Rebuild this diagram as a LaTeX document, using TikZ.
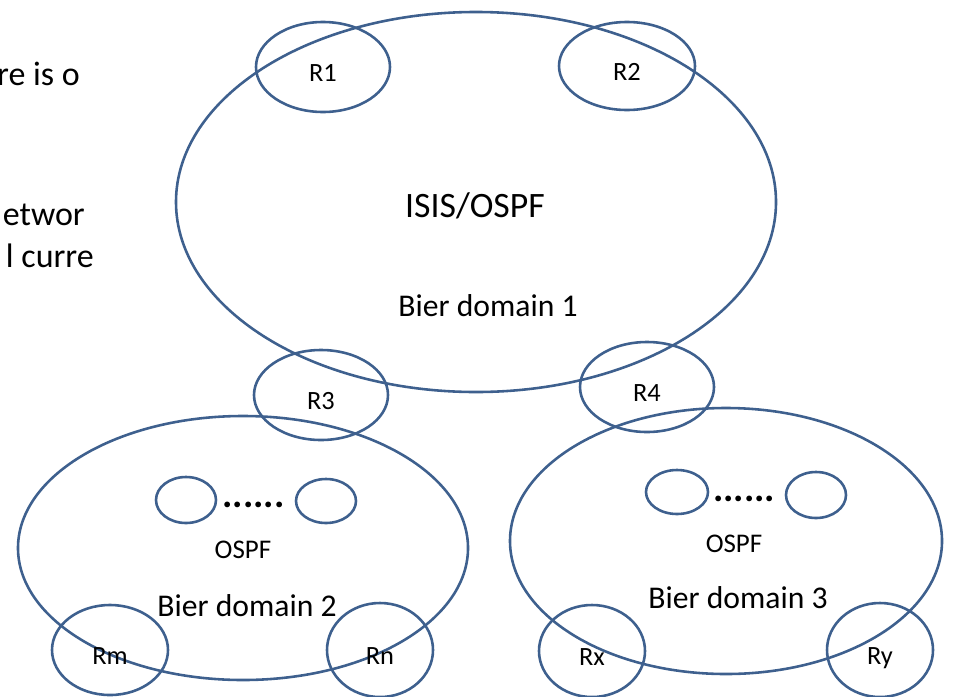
\documentclass[tikz,border=0pt]{standalone}
\usepackage{fontspec}
\setmainfont{Carlito}
\usetikzlibrary{shapes.geometric}
\definecolor{ringblue}{RGB}{62,96,142}

\begin{document}
\begin{tikzpicture}[x=0.03cm, y=-0.03cm,
    ring/.style={draw=ringblue, line width=2.2pt, ellipse, inner sep=0pt},
    router/.style={ring, font=\fontsize{22.5}{26}\selectfont, text height=24pt, text depth=0pt},
    bigtext/.style={anchor=base, font=\fontsize{27}{32}\selectfont},
    dots/.style={anchor=base, font=\fontsize{33}{38}\selectfont\bfseries}]
    \useasboundingbox (0,0) rectangle (965,696);
    \clip (0,0) rectangle (965,696);
    % cut-off text on the left
    \node[anchor=base east, font=\fontsize{29}{34}\selectfont, inner sep=0pt] (t1) at (80,85) {re is o};
    \node[anchor=base east, font=\fontsize{29}{34}\selectfont, inner sep=0pt] (t2) at (85,225) {etwor};
    \node[anchor=base east, font=\fontsize{29}{34}\selectfont, inner sep=0pt] (t3) at (94,267) {l curre};

    % domain 1
    \node[ring, minimum width=18cm, minimum height=11.4cm] (d1) at (476,202) {};
    \node[bigtext, font=\fontsize{30.5}{36}\selectfont] (isis) at (475,217) {ISIS/OSPF};
    \node[bigtext] (bier1) at (488,316) {Bier domain 1};
    \node[router, minimum width=4.02cm, minimum height=2.7cm] (r1) at (323,67) {R1};
    \node[router, minimum width=4.08cm, minimum height=2.64cm] (r2) at (627,66) {R2};

    % border routers
    \node[router, minimum width=4.02cm, minimum height=2.7cm] (r3) at (321,395) {R3};
    \node[router, minimum width=4.02cm, minimum height=2.7cm] (r4) at (647,387) {R4};

    % domain 2
    \node[ring, minimum width=13.5cm, minimum height=7.92cm] (d2) at (243,548) {};
    \node[ring, minimum width=1.8cm, minimum height=1.38cm] (s2a) at (186,500) {};
    \node[ring, minimum width=1.8cm, minimum height=1.32cm] (s2b) at (326,501) {};
    \node[dots] (dots2) at (253.5,507) {......};
    \node[anchor=base, font=\fontsize{23}{27}\selectfont] (ospf2) at (243,558) {OSPF};
    \node[bigtext] (bier2) at (247,616) {Bier domain 2};
    \node[router, minimum width=3.48cm, minimum height=2.7cm] (rm) at (110,650) {Rm};
    \node[router, minimum width=3.18cm, minimum height=2.82cm] (rn) at (380,650) {Rn};

    % domain 3
    \node[ring, minimum width=12.96cm, minimum height=7.98cm] (d3) at (726,541) {};
    \node[ring, minimum width=1.86cm, minimum height=1.32cm] (s3a) at (677,492) {};
    \node[ring, minimum width=1.8cm, minimum height=1.38cm] (s3b) at (816,495) {};
    \node[dots] (dots3) at (744,501) {......};
    \node[anchor=base, font=\fontsize{23}{27}\selectfont] (ospf3) at (734,552) {OSPF};
    \node[bigtext] (bier3) at (738,608) {Bier domain 3};
    \node[router, minimum width=3.18cm, minimum height=2.76cm] (rx) at (592,651) {Rx};
    \node[router, minimum width=3.18cm, minimum height=2.82cm] (ry) at (880,650) {Ry};
\end{tikzpicture}
\end{document}
